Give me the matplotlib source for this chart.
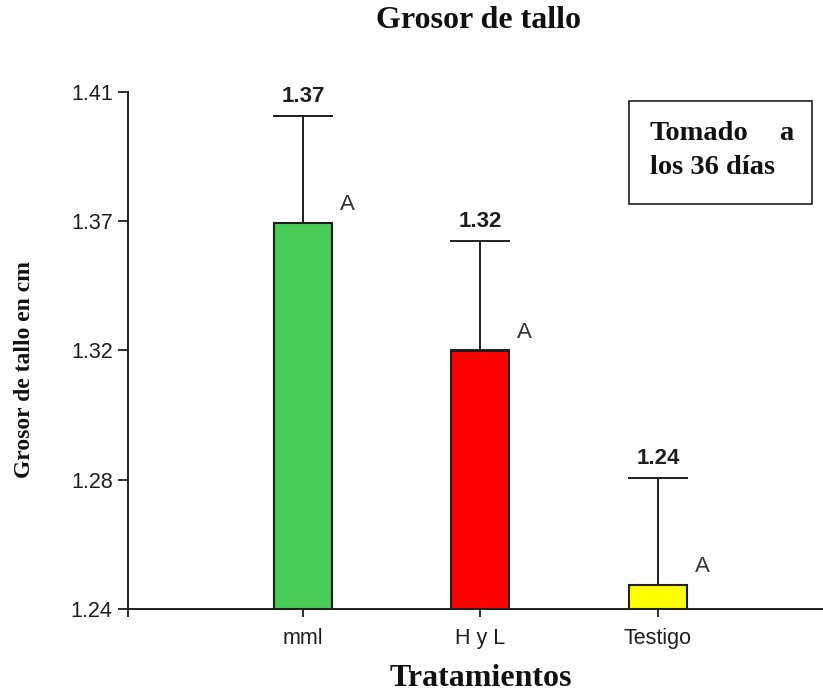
import matplotlib
matplotlib.use('Agg')
import matplotlib.pyplot as plt
from matplotlib.patches import Rectangle
import numpy as np

# data
tratamientos = ['mml', 'H y L', 'Testigo']
medias = [1.367, 1.325, 1.248]
errores = [0.035, 0.036, 0.035]
etiquetas = ['1.37', '1.32', '1.24']
letras = ['A', 'A', 'A']
colores = ['#48ce58', '#ff0000', '#ffff00']
ytick_vals = [1.24, 1.2825, 1.325, 1.3675, 1.41]
ytick_labels = ['1.24', '1.28', '1.32', '1.37', '1.41']

BASE = 1.24
W, H = 823, 694
SANS = 'Liberation Sans'
SERIF = 'Liberation Serif'
INK = '#1e1e1e'

fig = plt.figure(figsize=(W / 100, H / 100), dpi=100)
ax = fig.add_axes([128 / W, 85 / H, 695 / W, 517 / H])

x = np.arange(len(tratamientos))
alturas = np.array(medias) - BASE
ax.bar(x, alturas, bottom=BASE, width=0.327, color=colores,
       edgecolor=INK, linewidth=1.5, zorder=3)
ax.errorbar(x, medias, yerr=[np.zeros(len(errores)), errores], fmt='none',
            ecolor=INK, elinewidth=1.4, capsize=21.6, capthick=1.4, zorder=2)

for xi, m, e, lab, let in zip(x, medias, errores, etiquetas, letras):
    ax.annotate(lab, xy=(xi, m + e), xytext=(0, 10), textcoords='offset points',
                ha='center', va='baseline', fontsize=16, fontweight='bold',
                family=SANS, color=INK)
    ax.annotate(let, xy=(xi + 0.327 / 2, m), xytext=(11, 13),
                textcoords='offset points', ha='center', va='center',
                fontsize=16, family=SANS, color='#333333')

ax.set_xlim(-0.986, 2.93)
ax.set_ylim(BASE, 1.41)
ax.set_yticks(ytick_vals)
ax.set_yticklabels(ytick_labels, family=SANS, fontsize=15.5, color=INK)
ax.set_xticks(x)
ax.set_xticklabels(tratamientos, family=SANS, fontsize=15.5, color=INK)
ax.set_xticks([-0.986], minor=True)
ax.tick_params(axis='y', length=7, width=1.3, pad=4, color=INK)
ax.tick_params(axis='x', which='both', length=6, width=1.3, pad=8, color=INK)

for s in ['top', 'right']:
    ax.spines[s].set_visible(False)
for s in ['left', 'bottom']:
    ax.spines[s].set_linewidth(1.4)
    ax.spines[s].set_color(INK)

fig.text(478 / W, 1 - 20 / H, 'Grosor de tallo', ha='center', va='center',
         fontsize=23, fontweight='bold', family=SERIF, color='#111111')
fig.text(481 / W, 1 - 678 / H, 'Tratamientos', ha='center', va='center',
         fontsize=23, fontweight='bold', family=SERIF, color='#111111')
fig.text(25 / W, 1 - 369 / H, 'Grosor de tallo en cm', ha='center', va='center',
         rotation=90, fontsize=17, fontweight='bold', family=SERIF, color='#111111')

# note box
fig.add_artist(Rectangle((629 / W, 1 - 204 / H), 183 / W, 103 / H,
                         transform=fig.transFigure, facecolor='white',
                         edgecolor=INK, linewidth=1.2))
fig.text(650 / W, 1 - 133 / H, 'Tomado', ha='left', va='center',
         fontsize=20.5, fontweight='bold', family=SERIF, color='#111111')
fig.text(793 / W, 1 - 133 / H, 'a', ha='right', va='center',
         fontsize=20.5, fontweight='bold', family=SERIF, color='#111111')
fig.text(650 / W, 1 - 168 / H, 'los 36 días', ha='left', va='center',
         fontsize=20.5, fontweight='bold', family=SERIF, color='#111111')

fig.savefig('out.png', dpi=100, facecolor='white')
